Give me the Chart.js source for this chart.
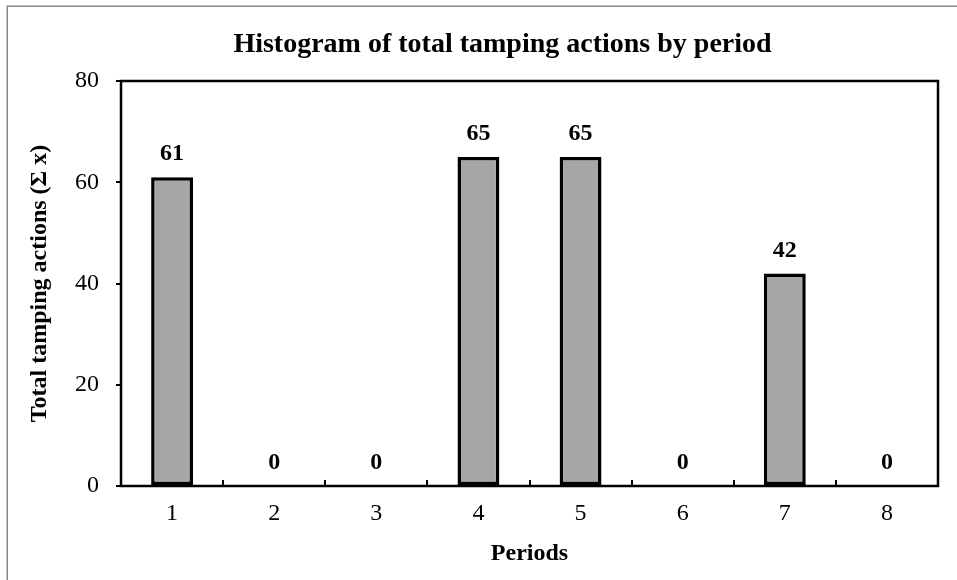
<!DOCTYPE html>
<html>
<head>
<meta charset="utf-8">
<script src="https://cdn.jsdelivr.net/npm/chart.js@4"></script>
<style>
html,body{margin:0;padding:0;background:#fff;}
#c{display:block;}
</style>
</head>
<body>
<canvas id="c" width="957" height="580"></canvas>
<script>
const periods = ['1','2','3','4','5','6','7','8'];
const totalTamping = [61, 0, 0, 65, 65, 0, 42, 0];
const yTicks = [0, 20, 40, 60, 80];
const chartTitle = 'Histogram of total tamping actions by period';
const xTitle = 'Periods';
const yTitle = 'Total tamping actions (\u03A3 x)';

const SERIF = '"Liberation Serif", "Times New Roman", serif';
const LEFT_PAD = 67;

const framePlugin = {
  id: 'frame',
  beforeDraw(chart) {
    const ctx = chart.ctx;
    ctx.save();
    ctx.strokeStyle = '#888888';
    ctx.lineWidth = 1.5;
    ctx.strokeRect(7.25, 6.25, 2000, 2000);
    ctx.restore();
  },
  afterDatasetsDraw(chart) {
    const ctx = chart.ctx;
    const a = chart.chartArea;
    const xs = chart.scales.x;
    ctx.save();
    ctx.strokeStyle = '#000';
    ctx.lineWidth = 2;
    for (let i = 0; i < periods.length - 1; i++) {
      const px = Math.round((xs.getPixelForValue(i) + xs.getPixelForValue(i + 1)) / 2);
      ctx.beginPath();
      ctx.moveTo(px, a.bottom);
      ctx.lineTo(px, a.bottom - 6);
      ctx.stroke();
    }
    ctx.lineWidth = 2.5;
    ctx.strokeRect(a.left, a.top, a.right - a.left, a.bottom - a.top);
    const meta = chart.getDatasetMeta(0);
    ctx.fillStyle = '#000';
    ctx.font = 'bold 24px ' + SERIF;
    ctx.textAlign = 'center';
    ctx.textBaseline = 'middle';
    meta.data.forEach((bar, i) => {
      ctx.fillText(String(totalTamping[i]), bar.x, bar.y - 23);
    });
    ctx.restore();
  }
};

new Chart(document.getElementById('c'), {
  type: 'bar',
  data: {
    labels: periods,
    datasets: [{
      data: totalTamping,
      backgroundColor: '#a6a6a6',
      borderColor: '#000000',
      borderWidth: 3.5,
      borderSkipped: false,
      categoryPercentage: 1,
      barPercentage: 0.41
    }]
  },
  options: {
    responsive: false,
    animation: false,
    devicePixelRatio: 1,
    layout: { padding: { left: LEFT_PAD, right: 19, top: 0, bottom: 0 } },
    plugins: {
      legend: { display: false },
      tooltip: { enabled: false },
      title: {
        display: true,
        text: chartTitle,
        color: '#000',
        font: { family: SERIF, size: 28, weight: 'bold', lineHeight: 1.2 },
        padding: { top: 28.4, bottom: 19 }
      }
    },
    scales: {
      x: {
        grid: { display: false, drawTicks: false },
        border: { display: false },
        ticks: { color: '#000', font: { family: SERIF, size: 24 }, padding: 13 },
        title: {
          display: true, text: xTitle, color: '#000',
          font: { family: SERIF, size: 24, weight: 'bold', lineHeight: 1.2 },
          padding: { top: 0, bottom: 11.6 }
        },
        afterFit(scale) { scale.height = 94; }
      },
      y: {
        min: 0, max: 80,
        afterBuildTicks(scale) { scale.ticks = yTicks.map(v => ({ value: v })); },
        grid: { drawOnChartArea: false, drawTicks: true, tickLength: 5, color: '#000', lineWidth: 2 },
        border: { display: false },
        ticks: { color: '#000', font: { family: SERIF, size: 24 }, padding: 17 },
        title: {
          display: true, text: yTitle, color: '#000',
          font: { family: SERIF, size: 24, weight: 'bold', lineHeight: 1.2 },
          padding: { top: 40 - LEFT_PAD - 14.4, bottom: 0 }
        },
        afterFit(scale) { scale.width = 121 - LEFT_PAD; }
      }
    }
  },
  plugins: [framePlugin]
});
</script>
</body>
</html>
